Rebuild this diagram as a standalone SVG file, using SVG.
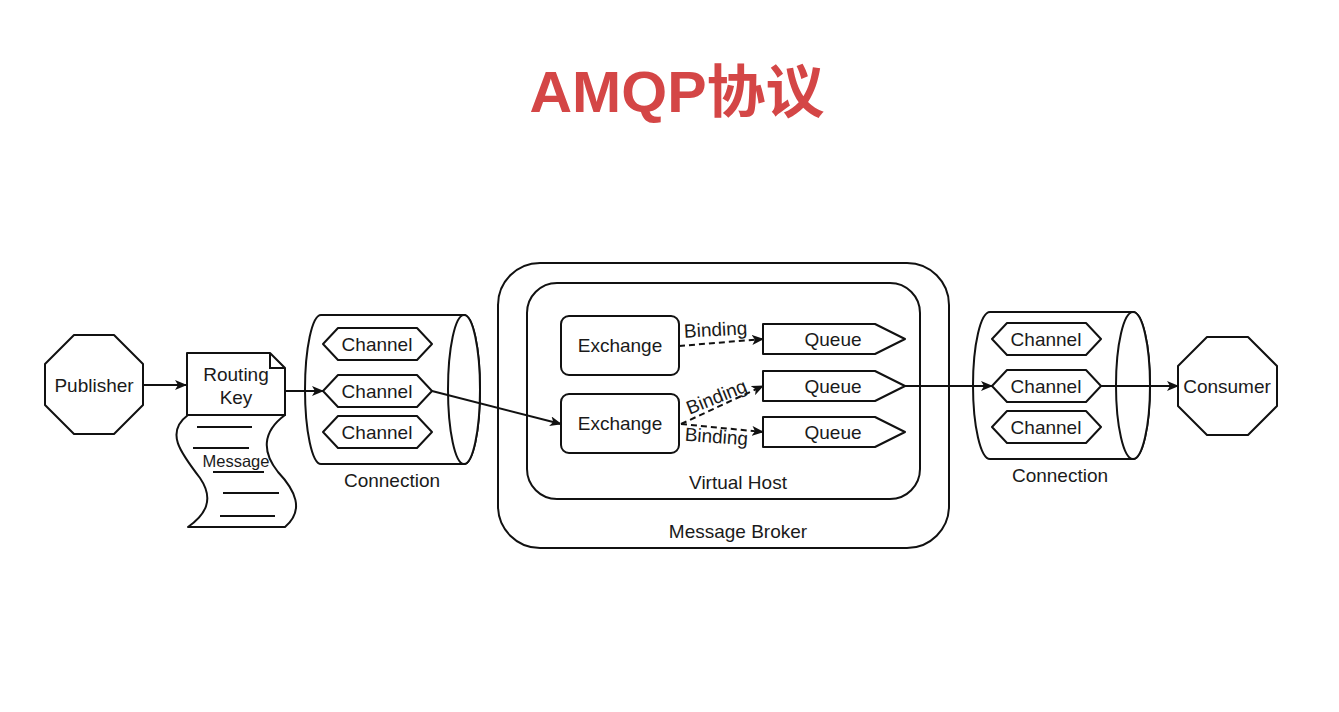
<svg xmlns="http://www.w3.org/2000/svg" width="1339" height="712" viewBox="0 0 1339 712">
<style>
.s{fill:#fff;stroke:#111;stroke-width:2;stroke-linejoin:round}
.n{fill:none;stroke:#111;stroke-width:2}
.t{font-family:"Liberation Sans",Arial,sans-serif;font-size:19px;fill:#1a1a1a;text-anchor:middle}
.c{stroke:#111;stroke-width:2;fill:none}
.d{stroke-dasharray:6,4}
</style>
<defs>
<marker id="ah" viewBox="0 0 12 10" refX="11" refY="5" markerWidth="12" markerHeight="10" markerUnits="userSpaceOnUse" orient="auto">
<path d="M0,0 L12,5 L0,10 L3,5 Z" fill="#111"/>
</marker>
</defs>
<rect width="1339" height="712" fill="#fff"/>
<text x="677" y="112" font-family="'Liberation Sans','Noto Sans CJK SC',sans-serif" font-weight="bold" font-size="57" fill="#d44646" text-anchor="middle" textLength="295" lengthAdjust="spacingAndGlyphs">AMQP协议</text>

<g id="publisher">
<polygon class="s" points="74,335 114,335 143,364 143,405 114,434 74,434 45,405 45,364"/>
<text class="t" x="94" y="392">Publisher</text>
</g>

<g id="message">
<path class="s" d="M188,415 L285,415 C262,432 262,452 278,472 C295,490 305,510 285,527 L188,527 C205,515 215,500 200,478 C180,452 165,432 188,415 Z"/>
<path class="n" d="M197,427 H252 M193,448 H249 M213,472 H264 M223,493 H279 M220,516 H275"/>
<text class="t" x="236" y="467" style="font-size:16.5px">Message</text>
</g>

<g id="routing-key">
<path class="s" d="M187,353 L270,353 L285,368 L285,415 L187,415 Z"/>
<path class="n" d="M270,353 L270,368 L285,368"/>
<text class="t" x="236" y="381">Routing</text>
<text class="t" x="236" y="404">Key</text>
</g>

<g id="connection-left">
<path class="s" d="M321,315 L464,315 A16,74.5 0 0 1 464,464 L321,464 A16,74.5 0 0 1 321,315 Z"/>
<ellipse class="s" cx="464" cy="389.5" rx="16" ry="74.5"/>
<text class="t" x="392" y="487">Connection</text>
</g>
<g id="channel-l1">
<polygon class="s" points="323,344 338,328 417,328 432,344 417,360 338,360"/>
<text class="t" x="377" y="351">Channel</text>
</g>
<g id="channel-l2">
<polygon class="s" points="323,391 338,375 417,375 432,391 417,407 338,407"/>
<text class="t" x="377" y="398">Channel</text>
</g>
<g id="channel-l3">
<polygon class="s" points="323,432 338,416 417,416 432,432 417,448 338,448"/>
<text class="t" x="377" y="439">Channel</text>
</g>

<g id="message-broker">
<rect class="s" x="498" y="263" width="451" height="285" rx="42" ry="42"/>
<text class="t" x="738" y="538">Message Broker</text>
</g>
<g id="virtual-host">
<rect class="s" x="527" y="283" width="393" height="216" rx="30" ry="30"/>
<text class="t" x="738" y="489">Virtual Host</text>
</g>
<g id="exchange-1">
<rect class="s" x="561" y="316" width="118" height="59" rx="8" ry="8"/>
<text class="t" x="620" y="352">Exchange</text>
</g>
<g id="exchange-2">
<rect class="s" x="561" y="394" width="118" height="59" rx="8" ry="8"/>
<text class="t" x="620" y="430">Exchange</text>
</g>
<g id="queue-1">
<polygon class="s" points="763,324 875,324 905,339 875,354 763,354"/>
<text class="t" x="833" y="346">Queue</text>
</g>
<g id="queue-2">
<polygon class="s" points="763,371 875,371 905,386 875,401 763,401"/>
<text class="t" x="833" y="393">Queue</text>
</g>
<g id="queue-3">
<polygon class="s" points="763,417 875,417 905,432 875,447 763,447"/>
<text class="t" x="833" y="439">Queue</text>
</g>

<g id="connection-right">
<path class="s" d="M990,312 L1133,312 A17,73.5 0 0 1 1133,459 L990,459 A17,73.5 0 0 1 990,312 Z"/>
<ellipse class="s" cx="1133" cy="385.5" rx="17" ry="73.5"/>
<text class="t" x="1060" y="482">Connection</text>
</g>
<g id="channel-r1">
<polygon class="s" points="992,339 1007,323 1086,323 1101,339 1086,355 1007,355"/>
<text class="t" x="1046" y="346">Channel</text>
</g>
<g id="channel-r2">
<polygon class="s" points="992,386 1007,370 1086,370 1101,386 1086,402 1007,402"/>
<text class="t" x="1046" y="393">Channel</text>
</g>
<g id="channel-r3">
<polygon class="s" points="992,427 1007,411 1086,411 1101,427 1086,443 1007,443"/>
<text class="t" x="1046" y="434">Channel</text>
</g>

<g id="consumer">
<polygon class="s" points="1207,337 1248,337 1277,366 1277,406 1248,435 1207,435 1178,406 1178,366"/>
<text class="t" x="1227" y="393">Consumer</text>
</g>

<g id="connectors">
<line class="c" x1="143" y1="385" x2="186" y2="385" marker-end="url(#ah)"/>
<line class="c" x1="285" y1="391" x2="323" y2="391" marker-end="url(#ah)"/>
<line class="c" x1="432" y1="391" x2="561" y2="424" marker-end="url(#ah)"/>
<line class="c d" x1="679" y1="346" x2="763" y2="339" marker-end="url(#ah)"/>
<line class="c d" x1="681" y1="424" x2="763" y2="386" marker-end="url(#ah)"/>
<line class="c d" x1="681" y1="424" x2="763" y2="432" marker-end="url(#ah)"/>
<line class="c" x1="905" y1="386" x2="992" y2="386" marker-end="url(#ah)"/>
<line class="c" x1="1101" y1="386" x2="1178" y2="386" marker-end="url(#ah)"/>
<text class="t" transform="translate(716,336) rotate(-3)">Binding</text>
<text class="t" transform="translate(719,403) rotate(-22)">Binding</text>
<text class="t" transform="translate(716,443) rotate(4)">Binding</text>
</g>
</svg>
